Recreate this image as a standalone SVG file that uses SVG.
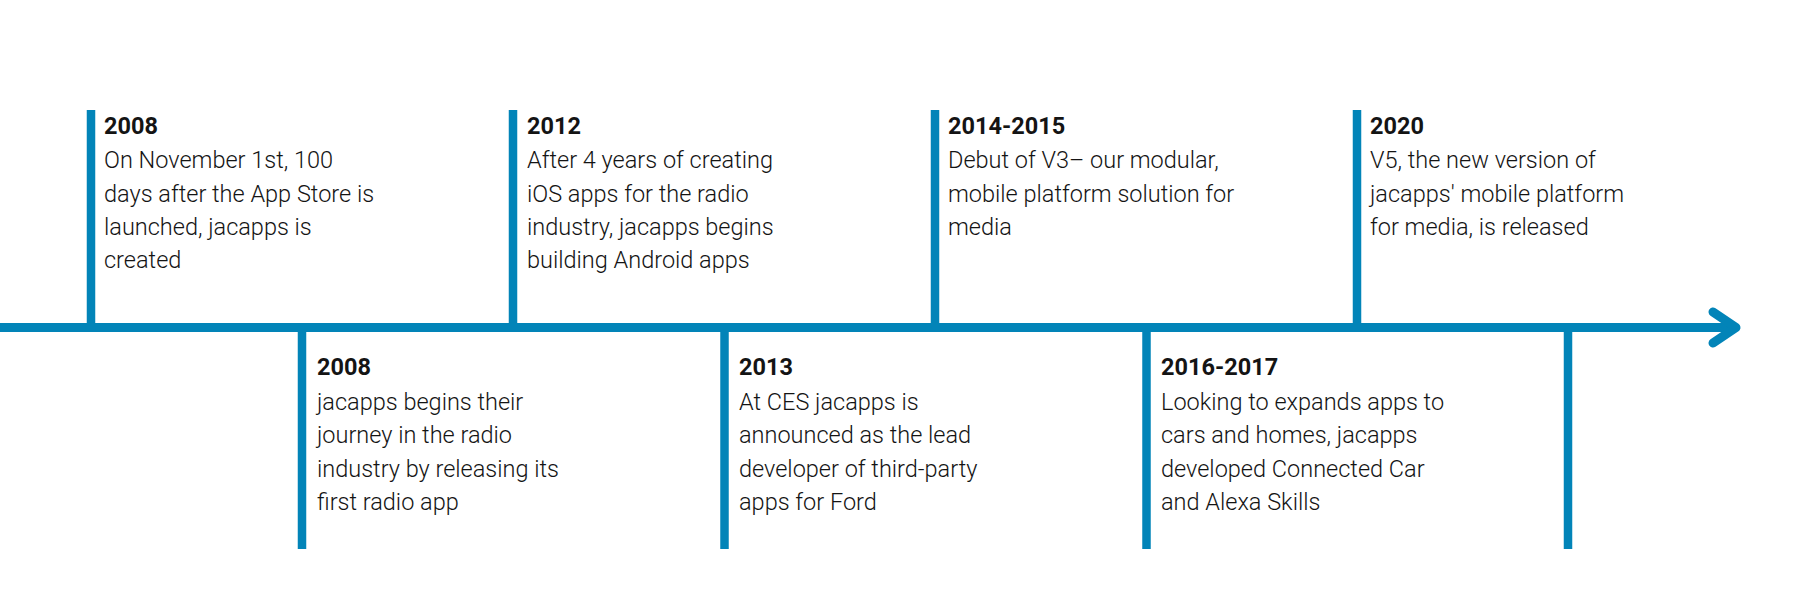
<svg xmlns="http://www.w3.org/2000/svg" width="1800" height="600" viewBox="0 0 1800 600">
  <style>
    .ln { stroke: #0284b8; stroke-width: 8.5; fill: none; }
    .ax { stroke: #0284b8; stroke-width: 9; fill: none; }
    .hd { stroke: #0284b8; stroke-width: 9; fill: none; stroke-linecap: round; stroke-linejoin: round; }
    text { font-family: Roboto, "Liberation Sans", sans-serif; font-size: 23.5px; fill: #141414; font-weight: 300; }
    .yr { font-weight: 700; }
  </style>
  <rect width="1800" height="600" fill="#ffffff"/>
  <g id="connectors">
    <line class="ax" x1="0" y1="327.5" x2="1734" y2="327.5"/>
    <polyline class="hd" points="1713,312 1736,327.5 1713,343"/>
  </g>
  <g id="node-2008a">
    <line class="ln" x1="91" y1="110" x2="91" y2="324"/>
    <text x="104" y="134" class="yr">2008</text>
    <text x="104" y="168">On November 1st, 100</text>
    <text x="104" y="202">days after the App Store is</text>
    <text x="104" y="235">launched, jacapps is</text>
    <text x="104" y="268">created</text>
  </g>
  <g id="node-2008b">
    <line class="ln" x1="302" y1="331" x2="302" y2="549"/>
    <text x="317" y="375" class="yr">2008</text>
    <text x="317" y="410">jacapps begins their</text>
    <text x="317" y="443">journey in the radio</text>
    <text x="317" y="477">industry by releasing its</text>
    <text x="317" y="510">first radio app</text>
  </g>
  <g id="node-2012">
    <line class="ln" x1="513" y1="110" x2="513" y2="324"/>
    <text x="527" y="134" class="yr">2012</text>
    <text x="527" y="168">After 4 years of creating</text>
    <text x="527" y="202">iOS apps for the radio</text>
    <text x="527" y="235">industry, jacapps begins</text>
    <text x="527" y="268">building Android apps</text>
  </g>
  <g id="node-2013">
    <line class="ln" x1="724.5" y1="331" x2="724.5" y2="549"/>
    <text x="739" y="375" class="yr">2013</text>
    <text x="739" y="410">At CES jacapps is</text>
    <text x="739" y="443">announced as the lead</text>
    <text x="739" y="477">developer of third-party</text>
    <text x="739" y="510">apps for Ford</text>
  </g>
  <g id="node-2014">
    <line class="ln" x1="935" y1="110" x2="935" y2="324"/>
    <text x="948" y="134" class="yr">2014-2015</text>
    <text x="948" y="168">Debut of V3– our modular,</text>
    <text x="948" y="202">mobile platform solution for</text>
    <text x="948" y="235">media</text>
  </g>
  <g id="node-2016">
    <line class="ln" x1="1146.5" y1="331" x2="1146.5" y2="549"/>
    <text x="1161" y="375" class="yr">2016-2017</text>
    <text x="1161" y="410">Looking to expands apps to</text>
    <text x="1161" y="443">cars and homes, jacapps</text>
    <text x="1161" y="477">developed Connected Car</text>
    <text x="1161" y="510">and Alexa Skills</text>
  </g>
  <g id="node-2020">
    <line class="ln" x1="1357" y1="110" x2="1357" y2="324"/>
    <text x="1370" y="134" class="yr">2020</text>
    <text x="1370" y="168">V5, the new version of</text>
    <text x="1370" y="202">jacapps' mobile platform</text>
    <text x="1370" y="235">for media, is released</text>
  </g>
  <g id="node-end">
    <line class="ln" x1="1568" y1="331" x2="1568" y2="549"/>
  </g>
</svg>
